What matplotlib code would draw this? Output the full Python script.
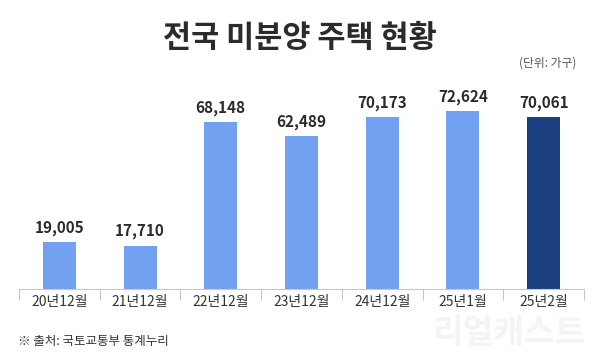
import numpy as np
import matplotlib.pyplot as plt

plt.rcParams['font.family'] = ['Noto Sans CJK KR', 'DejaVu Sans']

categories = ['20년12월', '21년12월', '22년12월', '23년12월', '24년12월', '25년1월', '25년2월']
values = [19005, 17710, 68148, 62489, 70173, 72624, 70061]
colors = ['#72a1f1'] * 6 + ['#1c3f82']

fig = plt.figure(figsize=(6, 3.62), dpi=100)
ax = fig.add_axes([19 / 600, 1 - 289 / 362, 565 / 600, 200 / 362])

x = np.arange(len(categories))
bars = ax.bar(x, values, width=0.41, color=colors)
for xi, v in zip(x, values):
    ax.annotate(f'{v:,}', (xi, v), xytext=(0, 4.5), textcoords='offset points',
                ha='center', va='bottom', fontsize=11, fontweight='bold', color='#2b2b2b')

ax.set_xlim(-0.5, len(categories) - 0.5)
ax.set_ylim(0, 81600)
ax.set_xticks(x)
ax.set_xticklabels(categories, fontsize=10, color='#333333')
ax.set_xticks(np.arange(-0.5, len(categories)), minor=True)
ax.tick_params(axis='x', which='major', length=0, pad=4.5)
ax.tick_params(axis='x', which='minor', length=8, width=0.8, color='#c8c8c8')
ax.set_yticks([])
for s in ['top', 'left', 'right']:
    ax.spines[s].set_visible(False)
ax.spines['bottom'].set_color('#c8c8c8')
ax.spines['bottom'].set_linewidth(0.8)

fig.text(0.5, 1 - 38 / 362, '전국 미분양 주택 현황', ha='center', va='center',
         fontsize=22, fontweight='bold', color='#2b2b2b')
fig.text(576 / 600, 1 - 63 / 362, '(단위: 가구)', ha='right', va='center',
         fontsize=8.5, color='#555555')
fig.text(18 / 600, 1 - 341 / 362, '※ 출처: 국토교통부 통계누리', ha='left', va='center',
         fontsize=9, color='#333333')
fig.text(585 / 600, 1 - 333 / 362, '리얼캐스트', ha='right', va='center',
         fontsize=24, fontweight='bold', color='#f4f4f4')

fig.savefig('out.png', dpi=100)
